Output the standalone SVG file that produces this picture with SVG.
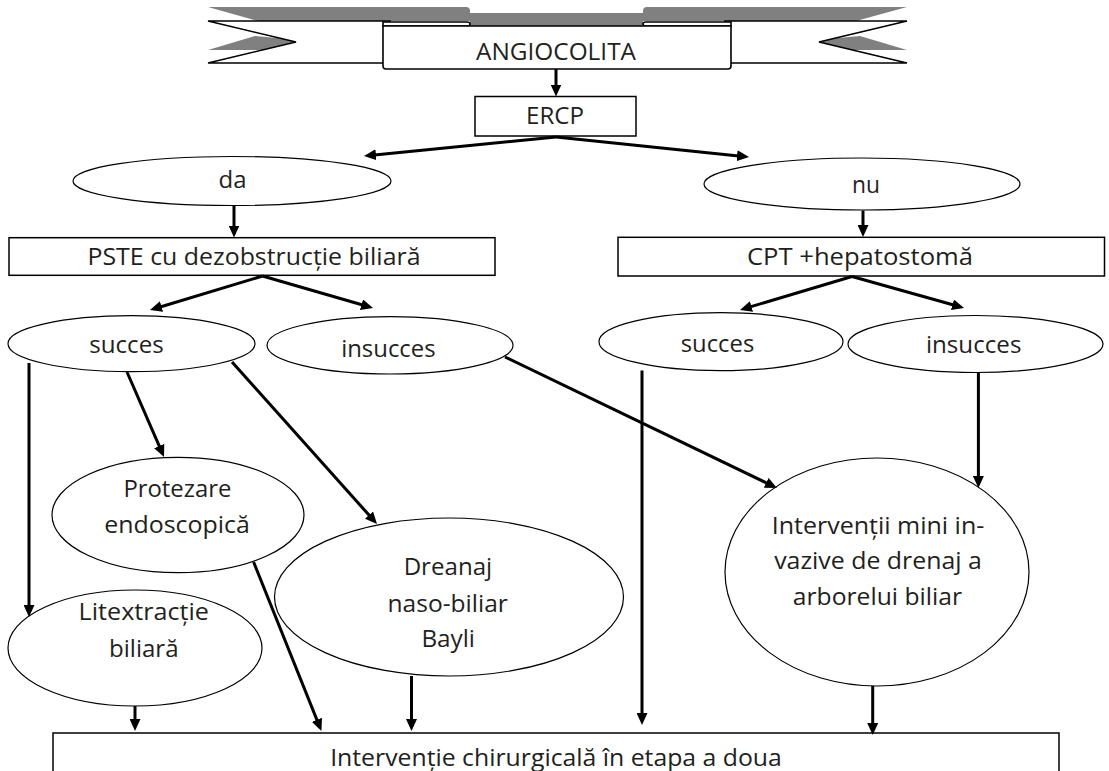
<svg xmlns="http://www.w3.org/2000/svg" width="1109" height="771" viewBox="0 0 1109 771">
  <style>
    .bg { fill: #ffffff; }
    .box { fill: #ffffff; stroke: #000000; stroke-width: 1.5; }
    .oval { fill: #ffffff; stroke: #000000; stroke-width: 1.2; }
    .rib { fill: #ffffff; stroke: #000000; stroke-width: 1.6; stroke-linejoin: miter; }
    .shade { fill: #808080; }
    .lbl { font-family: "Open Sans", "Liberation Sans", sans-serif; font-size: 24.5px; fill: #231f20; text-anchor: middle; }
    .arrow { fill: none; stroke: #000000; stroke-width: 3; marker-end: url(#head); }
  </style>
  <defs>
    <marker id="head" markerUnits="userSpaceOnUse" markerWidth="12" markerHeight="11" refX="4" refY="5.5" orient="auto" viewBox="0 0 12 11">
      <path d="M0,0 L12,5.5 L0,11 Z" fill="#000000"/>
    </marker>
  </defs>

  <rect class="bg" x="0" y="0" width="1109" height="771"/>

  <!-- title ribbon -->
  <g id="angiocolita">
    <!-- back of the ribbon -->
    <path class="shade" d="M208,7 L466,7 Q470,7 470,11 L470,13 L643,13 L643,11 Q643,7 647,7 L907,7 L856,21 L643,21 L643,27 L470,27 L470,21 L258,21 Z"/>
    <path class="shade" d="M208,50 L255,36 L280,38.2 L296,42 L262.5,50 Z"/>
    <path class="shade" d="M907,50 L860,36 L835,38.2 L819,42 L852.5,50 Z"/>
    <!-- tails -->
    <path class="rib" d="M208,21 L390,21 L390,63 L208,63 L296,42 Z"/>
    <path class="rib" d="M907,21 L725,21 L725,63 L907,63 L819,42 Z"/>
    <!-- rolled ends -->
    <path class="rib" d="M383,22 L467,22 Q470,22 470,24 Q470,26 467,26 L383,26 Z"/>
    <path class="rib" d="M731,22 L646,22 Q643,22 643,24 Q643,26 646,26 L731,26 Z"/>
    <!-- centre panel -->
    <path class="rib" d="M383,26 L731,26 L731,66 Q731,69 728,69 L386,69 Q383,69 383,66 Z"/>
    <text class="lbl" x="556" y="60" textLength="160" lengthAdjust="spacingAndGlyphs">ANGIOCOLITA</text>
  </g>

  <g id="ercp">
    <rect class="box" x="475" y="96.5" width="161" height="39.5"/>
    <text class="lbl" x="555" y="124" textLength="58" lengthAdjust="spacingAndGlyphs">ERCP</text>
  </g>

  <g id="da">
    <ellipse class="oval" cx="232" cy="181" rx="159" ry="24.5"/>
    <text class="lbl" x="232.5" y="188" textLength="28" lengthAdjust="spacingAndGlyphs">da</text>
  </g>

  <g id="nu">
    <ellipse class="oval" cx="862" cy="184" rx="158" ry="26"/>
    <text class="lbl" x="866" y="193" textLength="28" lengthAdjust="spacingAndGlyphs">nu</text>
  </g>

  <g id="pste">
    <rect class="box" x="9" y="237.7" width="486" height="37.6"/>
    <text class="lbl" x="254" y="265" textLength="333" lengthAdjust="spacingAndGlyphs">PSTE cu dezobstrucție biliară</text>
  </g>

  <g id="cpt">
    <rect class="box" x="618" y="237.3" width="486.5" height="38.7"/>
    <text class="lbl" x="860" y="264.5" textLength="226" lengthAdjust="spacingAndGlyphs">CPT +hepatostomă</text>
  </g>

  <g id="succes-stanga">
    <ellipse class="oval" cx="131.5" cy="343.7" rx="123.5" ry="28"/>
    <text class="lbl" x="126.5" y="353" textLength="74.5" lengthAdjust="spacingAndGlyphs">succes</text>
  </g>

  <g id="insucces-stanga">
    <ellipse class="oval" cx="390" cy="345.3" rx="123" ry="28.7"/>
    <text class="lbl" x="388.4" y="357" textLength="94.5" lengthAdjust="spacingAndGlyphs">insucces</text>
  </g>

  <g id="succes-dreapta">
    <ellipse class="oval" cx="721" cy="341.7" rx="122" ry="29"/>
    <text class="lbl" x="717.5" y="351.7" textLength="73.5" lengthAdjust="spacingAndGlyphs">succes</text>
  </g>

  <g id="insucces-dreapta">
    <ellipse class="oval" cx="975.5" cy="344" rx="127.5" ry="28.5"/>
    <text class="lbl" x="973.7" y="353.3" textLength="95.5" lengthAdjust="spacingAndGlyphs">insucces</text>
  </g>

  <g id="protezare">
    <ellipse class="oval" cx="178" cy="515" rx="126" ry="57.7"/>
    <text class="lbl" x="177.4" y="497.3" textLength="108" lengthAdjust="spacingAndGlyphs">Protezare</text>
    <text class="lbl" x="177" y="533.3" textLength="145.5" lengthAdjust="spacingAndGlyphs">endoscopică</text>
  </g>

  <g id="litextractie">
    <ellipse class="oval" cx="135" cy="648" rx="127" ry="58"/>
    <text class="lbl" x="143.8" y="620" textLength="130.4" lengthAdjust="spacingAndGlyphs">Litextracție</text>
    <text class="lbl" x="143.8" y="656.7" textLength="69.6" lengthAdjust="spacingAndGlyphs">biliară</text>
  </g>

  <g id="dreanaj">
    <ellipse class="oval" cx="449" cy="597" rx="174.5" ry="79"/>
    <text class="lbl" x="447.9" y="575" textLength="88.5" lengthAdjust="spacingAndGlyphs">Dreanaj</text>
    <text class="lbl" x="447.7" y="611.7" textLength="120.4" lengthAdjust="spacingAndGlyphs">naso-biliar</text>
    <text class="lbl" x="448.2" y="646.7" textLength="53.6" lengthAdjust="spacingAndGlyphs">Bayli</text>
  </g>

  <g id="interventii-mini-invazive">
    <ellipse class="oval" cx="877" cy="572" rx="152" ry="114"/>
    <text class="lbl" x="878" y="534" textLength="212.6" lengthAdjust="spacingAndGlyphs">Intervenții mini in-</text>
    <text class="lbl" x="878" y="569" textLength="207.7" lengthAdjust="spacingAndGlyphs">vazive de drenaj a</text>
    <text class="lbl" x="877.4" y="605" textLength="169.2" lengthAdjust="spacingAndGlyphs">arborelui biliar</text>
  </g>

  <g id="interventie-chirurgicala">
    <rect class="box" x="53" y="733" width="1006" height="60" stroke-width="1.2"/>
    <text class="lbl" x="556" y="766" textLength="451.7" lengthAdjust="spacingAndGlyphs">Intervenție chirurgicală în etapa a doua</text>
  </g>

  <g id="connectors">
    <path class="arrow" d="M556,69 L556,88.5"/>
    <path class="arrow" d="M556,137 L371.96,155.21"/>
    <path class="arrow" d="M556,137 L741.04,156.18"/>
    <path class="arrow" d="M234,206 L234,229.5"/>
    <path class="arrow" d="M863,210.5 L863,229"/>
    <path class="arrow" d="M262.5,276 L157.66,307.69"/>
    <path class="arrow" d="M262.5,276 L365.32,305.77"/>
    <path class="arrow" d="M852,276.5 L747.66,307.68"/>
    <path class="arrow" d="M852,276.5 L956.31,305.8"/>
    <path class="arrow" d="M29,363 L29,609"/>
    <path class="arrow" d="M127,372 L160.81,449.66"/>
    <path class="arrow" d="M232,362 L371.66,518.04"/>
    <path class="arrow" d="M505,357 L769.79,484.53"/>
    <path class="arrow" d="M642,370.5 L642,717"/>
    <path class="arrow" d="M978.4,372.5 L978.4,480"/>
    <path class="arrow" d="M253.6,562 L318.42,723.58"/>
    <path class="arrow" d="M135,706 L135,723"/>
    <path class="arrow" d="M411.5,676 L411.5,723"/>
    <path class="arrow" d="M872.7,686 L872.7,727"/>
  </g>
</svg>
